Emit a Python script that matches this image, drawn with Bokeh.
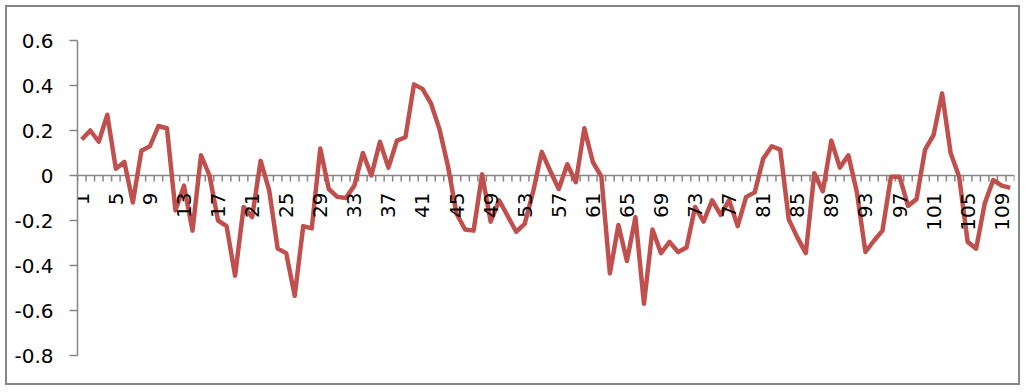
import math
from bokeh.plotting import figure
from bokeh.models import Range1d, FixedTicker, ColumnDataSource
from bokeh.core.properties import value
from bokeh.embed import file_html
from bokeh.resources import INLINE

categories = list(range(1, 111))
values = [
    0.16, 0.20, 0.15, 0.27, 0.03, 0.06, -0.12, 0.11, 0.13, 0.22,
    0.21, -0.155, -0.045, -0.245, 0.09, 0.0, -0.20, -0.225, -0.445, -0.14,
    -0.185, 0.065, -0.065, -0.325, -0.345, -0.535, -0.225, -0.235, 0.12, -0.06,
    -0.095, -0.10, -0.045, 0.10, 0.0, 0.15, 0.035, 0.155, 0.17, 0.405,
    0.385, 0.32, 0.205, 0.04, -0.17, -0.24, -0.245, 0.005, -0.205, -0.11,
    -0.18, -0.25, -0.215, -0.07, 0.105, 0.02, -0.06, 0.05, -0.03, 0.21,
    0.06, -0.005, -0.435, -0.22, -0.38, -0.185, -0.57, -0.24, -0.345, -0.295,
    -0.34, -0.32, -0.14, -0.205, -0.11, -0.175, -0.11, -0.225, -0.095, -0.075,
    0.075, 0.13, 0.115, -0.195, -0.275, -0.345, 0.01, -0.07, 0.155, 0.035,
    0.09, -0.075, -0.34, -0.29, -0.245, -0.005, -0.005, -0.135, -0.105, 0.115,
    0.18, 0.365, 0.10, -0.005, -0.295, -0.325, -0.125, -0.02, -0.045, -0.055,
]
x_label_positions = [1, 5, 9, 13, 17, 21, 25, 29, 33, 37, 41, 45, 49, 53,
                     57, 61, 65, 69, 73, 77, 81, 85, 89, 93, 97, 101, 105, 109]
x_tick_labels = [str(v) for v in x_label_positions]
y_ticks = [-0.8, -0.6, -0.4, -0.2, 0, 0.2, 0.4, 0.6]
y_tick_labels = ["-0.8", "-0.6", "-0.4", "-0.2", "0", "0.2", "0.4", "0.6"]

LINE_RED = "#C0504D"
AXIS_GRAY = "#868686"
FONT = "DejaVu Sans"
FSIZE = "20px"

y_lo, y_hi = min(y_ticks), max(y_ticks)
W, H = 1015, 380
ML, MR, MT, MB = 70, 8, 33, 32
frame_h = H - MT - MB
px = (y_hi - y_lo) / frame_h  # data units per pixel (vertical)

p = figure(width=W, height=H, output_backend="svg", toolbar_location=None,
           x_range=Range1d(0.5, len(categories) + 0.5),
           y_range=Range1d(y_lo, y_hi),
           x_axis_location=None, min_border_left=ML, min_border_right=MR,
           min_border_top=MT, min_border_bottom=MB)
p.styles = {"margin-left": "5px", "margin-top": "5px",
            "border": f"2px solid {AXIS_GRAY}"}
p.outline_line_color = None
p.grid.visible = False
p.background_fill_color = "white"
p.border_fill_color = "white"

ya = p.yaxis[0]
ya.ticker = FixedTicker(ticks=y_ticks)
ya.major_label_overrides = {t: l for t, l in zip(y_ticks, y_tick_labels)}
ya.axis_line_color = AXIS_GRAY
ya.axis_line_width = 1.5
ya.major_tick_line_color = AXIS_GRAY
ya.major_tick_line_width = 1.5
ya.major_tick_out = 8
ya.major_tick_in = 0
ya.minor_tick_line_color = None
ya.major_label_standoff = 16
ya.major_label_text_font = FONT
ya.major_label_text_font_size = FSIZE
ya.major_label_text_color = "black"

# horizontal category axis drawn at y = 0
bounds = [c - 0.5 for c in categories] + [categories[-1] + 0.5]
p.segment(x0=[bounds[0]], y0=[0], x1=[bounds[-1]], y1=[0],
          line_color=AXIS_GRAY, line_width=1.5)
p.segment(x0=bounds, y0=[0] * len(bounds), x1=bounds,
          y1=[-6 * px] * len(bounds), line_color=AXIS_GRAY, line_width=1.5)

src = ColumnDataSource(dict(x=categories, y=values))
p.line("x", "y", source=src, line_color=LINE_RED, line_width=4.5,
       line_join="round")

p.text(x=x_label_positions, y=[-17 * px] * len(x_label_positions),
       text=x_tick_labels, angle=math.pi / 2, text_align="right",
       text_baseline="middle", text_font=value(FONT),
       text_font_size=FSIZE, text_color="black")

open("out.html", "w").write(file_html(p, INLINE))
